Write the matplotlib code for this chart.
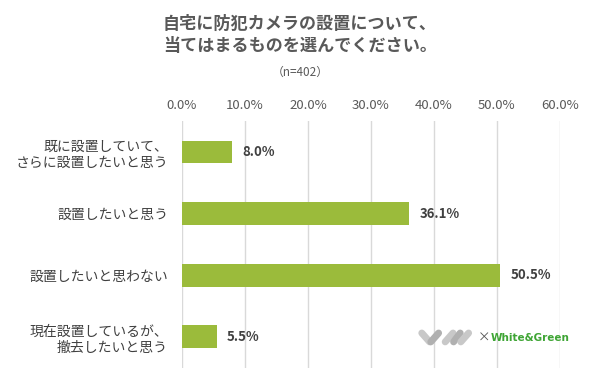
import matplotlib.pyplot as plt
from matplotlib.lines import Line2D

plt.rcParams['font.family'] = ['Noto Sans CJK JP', 'DejaVu Sans']

categories = ['既に設置していて、\nさらに設置したいと思う',
              '設置したいと思う',
              '設置したいと思わない',
              '現在設置しているが、\n撤去したいと思う']
values = [8.0, 36.1, 50.5, 5.5]
ticks = [0, 10, 20, 30, 40, 50, 60]
tick_labels = ['0.0%', '10.0%', '20.0%', '30.0%', '40.0%', '50.0%', '60.0%']

bar_color = '#9BBB3B'
text_gray = '#595959'

fig = plt.figure(figsize=(6, 3.85), dpi=100)
ax = fig.add_axes([0.3033, 0.045, 0.63, 0.64])

y = list(range(len(categories)))
ax.barh(y, values, height=0.37, color=bar_color, zorder=3)
for yi, v in zip(y, values):
    ax.text(v + 1.6, yi, f'{v:.1f}%', va='center', ha='left',
            fontsize=9.5, fontweight='bold', color='#404040')

ax.set_xlim(0, 60)
ax.set_ylim(len(categories) - 0.5, -0.5)
ax.set_xticks(ticks)
ax.set_xticklabels(tick_labels, fontsize=9.5, color=text_gray)
ax.xaxis.tick_top()
ax.tick_params(axis='x', length=0, pad=7)
ax.set_yticks(y)
ax.set_yticklabels(categories, fontsize=10, color='#404040', linespacing=1.25)
ax.tick_params(axis='y', length=0, pad=10)
ax.grid(axis='x', color='#D9D9D9', linewidth=1, zorder=0)
for s in ax.spines.values():
    s.set_visible(False)

fig.text(0.5, 0.91, '自宅に防犯カメラの設置について、\n当てはまるものを選んでください。',
         ha='center', va='center', fontsize=12.3, fontweight='bold',
         color=text_gray, linespacing=1.3)
fig.text(0.5, 0.812, '（n=402）', ha='center', va='center', fontsize=8.5, color=text_gray)

# logo
for (x0, y0, x1, y1, c) in [(0.703, 0.135, 0.716, 0.112, '#C8C8C8'),
                            (0.718, 0.112, 0.731, 0.135, '#B0B0B0'),
                            (0.742, 0.112, 0.755, 0.135, '#C8C8C8'),
                            (0.756, 0.112, 0.767, 0.135, '#B0B0B0'),
                            (0.768, 0.112, 0.781, 0.135, '#C8C8C8')]:
    fig.add_artist(Line2D([x0, x1], [y0, y1], transform=fig.transFigure,
                          color=c, linewidth=5, solid_capstyle='round'))
fig.text(0.797, 0.122, '×', ha='left', va='center', fontsize=9, color='#555555')
fig.text(0.818, 0.122, 'White&Green', ha='left', va='center', fontsize=7.5,
         fontweight='bold', color='#3FA535', family=['DejaVu Sans'])

fig.savefig('out.png', dpi=100)
